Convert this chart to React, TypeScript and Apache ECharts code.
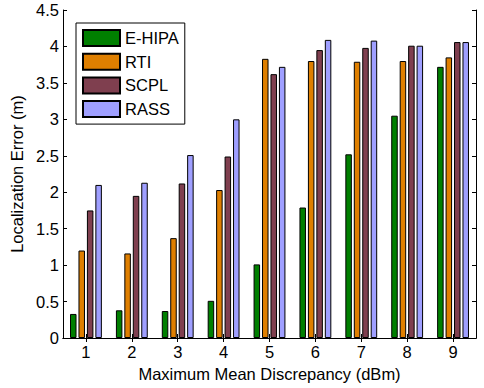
import React, { useEffect, useRef } from 'react';
import * as echarts from 'echarts';

const categories = ['1', '2', '3', '4', '5', '6', '7', '8', '9'];
const eHipa = [0.33, 0.38, 0.37, 0.51, 1.01, 1.79, 2.52, 3.05, 3.72];
const rti = [1.2, 1.16, 1.37, 2.03, 3.83, 3.8, 3.79, 3.8, 3.85];
const scpl = [1.75, 1.95, 2.12, 2.49, 3.62, 3.95, 3.98, 4.01, 4.06];
const rass = [2.1, 2.13, 2.51, 3.0, 3.72, 4.09, 4.08, 4.01, 4.06];
const seriesNames = ['E-HIPA', 'RTI', 'SCPL', 'RASS'];
const seriesColors = ['#007f00', '#df7f00', '#7f3f4f', '#9f9fff'];
const yMin = 0;
const yMax = 4.5;
const yStep = 0.5;

const FONT = 'Liberation Sans, Arial, Helvetica, sans-serif';
const FS = 16.5;

export default function App() {
  const ref = useRef<HTMLDivElement>(null);
  useEffect(() => {
    if (!ref.current) return;
    const chart = echarts.init(ref.current, undefined, { renderer: 'svg' });
    const axisLine = { show: true, lineStyle: { color: '#000', width: 1 } };
    const tick = { show: true, inside: true, length: 4, lineStyle: { color: '#000', width: 1 } };
    const values = [eHipa, rti, scpl, rass];
    chart.setOption({
      animation: false,
      backgroundColor: '#fff',
      textStyle: { fontFamily: FONT },
      grid: { left: 63, right: 8, top: 10, bottom: 50 },
      legend: {
        orient: 'vertical',
        left: 76,
        top: 23,
        itemWidth: 37,
        itemHeight: 16,
        itemGap: 5.7,
        padding: [6, 6, 6, 6],
        borderColor: '#000',
        borderWidth: 1,
        backgroundColor: '#fff',
        icon: 'rect',
        textStyle: { fontSize: FS, color: '#000', fontFamily: FONT },
        data: seriesNames,
      },
      xAxis: [
        {
          type: 'category',
          data: categories,
          position: 'bottom',
          axisLine,
          axisTick: { ...tick, alignWithLabel: true },
          axisLabel: { color: '#000', fontSize: FS, margin: 5, fontFamily: FONT },
          name: 'Maximum Mean Discrepancy (dBm)',
          nameLocation: 'middle',
          nameGap: 27,
          nameTextStyle: { color: '#000', fontSize: FS, fontFamily: FONT },
          splitLine: { show: false },
        },
        {
          type: 'category',
          data: categories,
          position: 'top',
          axisLine,
          axisTick: { ...tick, alignWithLabel: true },
          axisLabel: { show: false },
          splitLine: { show: false },
        },
      ],
      yAxis: [
        {
          type: 'value',
          min: yMin,
          max: yMax,
          interval: yStep,
          position: 'left',
          axisLine,
          axisTick: tick,
          axisLabel: { color: '#000', fontSize: FS, margin: 4, fontFamily: FONT },
          splitLine: { show: false },
          name: 'Localization Error (m)',
          nameLocation: 'middle',
          nameGap: 33,
          nameTextStyle: { color: '#000', fontSize: FS, fontFamily: FONT },
        },
        {
          type: 'value',
          min: yMin,
          max: yMax,
          interval: yStep,
          position: 'right',
          axisLine,
          axisTick: tick,
          axisLabel: { show: false },
          splitLine: { show: false },
        },
      ],
      series: seriesNames.map((name, i) => ({
        name,
        type: 'bar',
        xAxisIndex: 0,
        yAxisIndex: 0,
        data: values[i],
        barWidth: 6.5,
        barGap: '30%',
        itemStyle: { color: seriesColors[i], borderColor: '#000', borderWidth: 1 },
        emphasis: { disabled: true },
      })),
    });
    return () => chart.dispose();
  }, []);
  return (
    <div
      ref={ref}
      style={{ position: 'fixed', left: 0, top: 0, width: 484, height: 388 }}
    />
  );
}
